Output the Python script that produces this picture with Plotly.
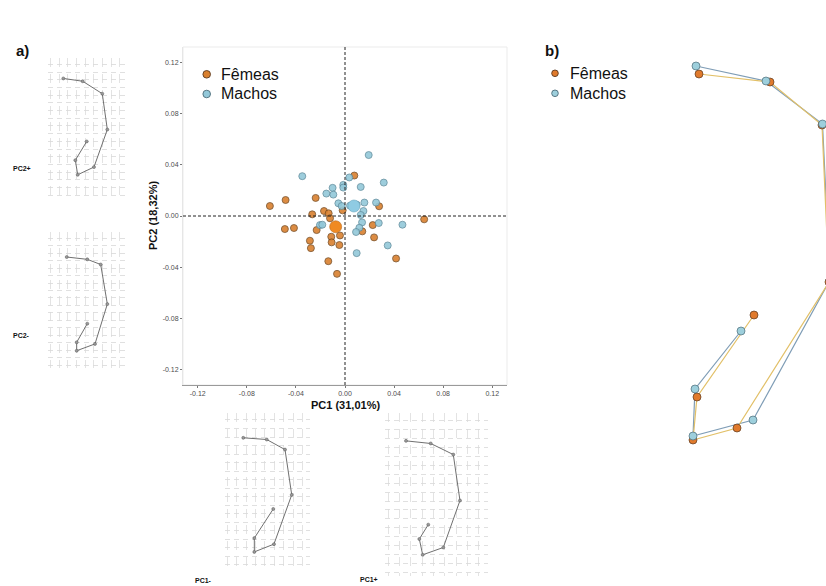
import plotly.graph_objects as go

W, H = 826, 586
FONT = "Liberation Sans, Arial, sans-serif"

# ---------------- data ----------------
# a) PCA scores
fem_pc1 = [-0.0612, -0.0484, -0.0490, -0.0416, -0.0239, -0.0267, -0.0231, -0.0286, -0.0278,
           -0.0171, -0.0133, -0.0122, -0.0112, -0.0109, -0.0041, -0.0046, -0.0136, -0.0065,
           -0.0019, 0.0076, 0.0278, 0.0226, 0.0141, 0.0237, 0.0416, 0.0645]
fem_pc2 = [0.0078, 0.0125, -0.0102, -0.0094, 0.0141, 0.0013, -0.0110, -0.0193, -0.0251,
           0.0039, 0.0021, -0.0018, -0.0162, -0.0206, -0.0152, -0.0227, -0.0353, -0.0452,
           0.0044, 0.0316, 0.0076, -0.0071, -0.0120, -0.0167, -0.0332, -0.0026]
mac_pc1 = [-0.0348, -0.0152, -0.0101, -0.0095, -0.0014, -0.0014, 0.0035, 0.0128, 0.0193,
           0.0316, -0.0054, 0.0041, 0.0095, 0.0158, 0.0150, 0.0128, 0.0253, 0.0275,
           0.0468, 0.0139, 0.0117, 0.0090, 0.0095, 0.0348, -0.0204, -0.0185, -0.0027]
mac_pc2 = [0.0311, 0.0175, 0.0220, 0.0167, 0.0243, 0.0222, 0.0301, 0.0227, 0.0476,
           0.0261, 0.0099, 0.0081, 0.0089, 0.0105, 0.0039, 0.0008, 0.0105, -0.0055,
           -0.0068, -0.0050, -0.0092, -0.0125, -0.0290, -0.0230, -0.0071, -0.0068, 0.0078]
fem_mean = [-0.0076, -0.0084]
mac_mean = [0.0073, 0.0078]
ticks = [-0.12, -0.08, -0.04, 0.0, 0.04, 0.08, 0.12]
tick_labels = ["-0.12", "-0.08", "-0.04", "0.00", "0.04", "0.08", "0.12"]
groups = ["Fêmeas", "Machos"]

# deformation grid wireframes (landmarks 1..8, normalised grid coords)
pc2p_x = [0.194, 0.439, 0.687, 0.751, 0.582, 0.376, 0.346, 0.490]
pc2p_y = [0.854, 0.834, 0.745, 0.489, 0.221, 0.166, 0.270, 0.404]
pc2m_x = [0.237, 0.497, 0.667, 0.751, 0.595, 0.363, 0.363, 0.497]
pc2m_y = [0.816, 0.799, 0.761, 0.470, 0.177, 0.127, 0.189, 0.326]
pc1m_x = [0.215, 0.491, 0.706, 0.785, 0.576, 0.345, 0.345, 0.568]
pc1m_y = [0.840, 0.829, 0.764, 0.472, 0.154, 0.104, 0.193, 0.381]
pc1p_x = [0.204, 0.444, 0.663, 0.728, 0.566, 0.366, 0.333, 0.420]
pc1p_y = [0.829, 0.813, 0.745, 0.463, 0.175, 0.130, 0.227, 0.315]

# b) mean shapes
fem_shape_x = [-0.061, 0.010, 0.062, 0.069, -0.023, -0.067, -0.063, -0.006]
fem_shape_y = [0.176, 0.168, 0.125, -0.032, -0.178, -0.190, -0.147, -0.065]
mac_shape_x = [-0.064, 0.006, 0.0625, 0.070, -0.007, -0.067, -0.065, -0.019]
mac_shape_y = [0.184, 0.169, 0.126, -0.030, -0.170, -0.186, -0.139, -0.081]

ORANGE = "#d9802f"
BLUE = "#93c8d9"


def PX(p):  # window pixel -> paper x
    return p / W


def PY(p):  # window pixel -> paper y
    return 1 - p / H


def dom_x(a, b):
    return [PX(a), PX(b)]


def dom_y(top, bottom):
    return [PY(bottom), PY(top)]


fig = go.Figure()

# ---- scatter panel ----
fig.add_trace(go.Scatter(x=fem_pc1, y=fem_pc2, mode="markers", name=groups[0], showlegend=False,
                         marker=dict(size=7, color=ORANGE, opacity=0.9,
                                     line=dict(color="#6b4520", width=0.8)),
                         xaxis="x", yaxis="y"))
fig.add_trace(go.Scatter(x=mac_pc1, y=mac_pc2, mode="markers", name=groups[1], showlegend=False,
                         marker=dict(size=7, color=BLUE, opacity=0.9,
                                     line=dict(color="#5b8797", width=0.8)),
                         xaxis="x", yaxis="y"))
fig.add_trace(go.Scatter(x=[fem_mean[0]], y=[fem_mean[1]], mode="markers", showlegend=False,
                         marker=dict(size=12, color="#f08a22", line=dict(color="#b86a1e", width=0.6)),
                         xaxis="x", yaxis="y"))
fig.add_trace(go.Scatter(x=[mac_mean[0]], y=[mac_mean[1]], mode="markers", showlegend=False,
                         marker=dict(size=12, color="#8fcbe3", line=dict(color="#6aa8c0", width=0.6)),
                         xaxis="x", yaxis="y"))

# ---- grids ----
grids = [
    ("x3", "y3", pc2p_x, pc2p_y, dom_x(48, 127), dom_y(58, 198)),
    ("x4", "y4", pc2m_x, pc2m_y, dom_x(48, 127), dom_y(232, 368)),
    ("x5", "y5", pc1m_x, pc1m_y, dom_x(225, 310), dom_y(413, 568)),
    ("x6", "y6", pc1p_x, pc1p_y, dom_x(385, 488), dom_y(413, 576)),
]
for xa, ya, gx, gy, dx, dy in grids:
    fig.add_trace(go.Scatter(x=gx, y=gy, mode="lines+markers", showlegend=False,
                             line=dict(color="#707070", width=1),
                             marker=dict(size=3, color="#9a9a9a", line=dict(color="#555", width=0.5)),
                             xaxis=xa, yaxis=ya))

# ---- panel b ----
fig.add_trace(go.Scatter(x=mac_shape_x, y=mac_shape_y, mode="lines", showlegend=False,
                         line=dict(color="#7f9db6", width=1.2), xaxis="x2", yaxis="y2"))
fig.add_trace(go.Scatter(x=fem_shape_x, y=fem_shape_y, mode="lines", showlegend=False,
                         line=dict(color="#e2c068", width=1.2), xaxis="x2", yaxis="y2"))
fig.add_trace(go.Scatter(x=fem_shape_x, y=fem_shape_y, mode="markers", name=groups[0], showlegend=False,
                         marker=dict(size=8, color="#e07a2c", line=dict(color="#5a3a20", width=0.7)),
                         xaxis="x2", yaxis="y2"))
fig.add_trace(go.Scatter(x=mac_shape_x, y=mac_shape_y, mode="markers", name=groups[1], showlegend=False,
                         marker=dict(size=8, color="#9dcfdc", line=dict(color="#4c6b78", width=0.7)),
                         xaxis="x2", yaxis="y2"))

tickfont = dict(family=FONT, size=7, color="#4d4d4d")
layout = dict(
    width=W, height=H, margin=dict(l=0, r=0, t=0, b=0),
    paper_bgcolor="white", plot_bgcolor="white",
    font=dict(family=FONT, color="#222"), showlegend=False, hovermode=False,
    xaxis=dict(domain=dom_x(183, 507), range=[-0.132, 0.132], tickvals=ticks, ticktext=tick_labels,
               tickfont=tickfont, ticks="outside", ticklen=2, tickcolor="#777",
               showgrid=False, zeroline=False, showline=True, linecolor="#9a9a9a", linewidth=1,
               anchor="y"),
    yaxis=dict(domain=dom_y(47, 385), range=[-0.132, 0.132], tickvals=ticks, ticktext=tick_labels,
               tickfont=tickfont, ticks="outside", ticklen=2, tickcolor="#777",
               showgrid=False, zeroline=False, showline=True, linecolor="#e6e6e6", linewidth=1,
               anchor="x"),
    xaxis2=dict(domain=dom_x(640, 826), range=[-0.12, 0.066], visible=False, anchor="y2"),
    yaxis2=dict(domain=dom_y(50, 450), range=[-0.2, 0.2], visible=False, anchor="x2"),
)
for i, (xa, ya, gx, gy, dx, dy) in enumerate(grids):
    n = xa[1:]
    layout["xaxis" + n] = dict(domain=dx, range=[0, 1], anchor="y" + n, showticklabels=False,
                               showgrid=True, gridcolor="#dcdcdc", gridwidth=0.8, griddash="9px,7px",
                               dtick=0.11, tick0=0.03, zeroline=False, showline=False, ticks="")
    layout["yaxis" + n] = dict(domain=dy, range=[0, 1], anchor="x" + n, showticklabels=False,
                               showgrid=True, gridcolor="#d8d8d8", gridwidth=0.8, griddash="5px,4px",
                               dtick=0.055, tick0=0.02, zeroline=False, showline=False, ticks="")
fig.update_layout(**layout)

# light panel frame and zero lines
fig.add_shape(type="rect", xref="x domain", yref="y domain", x0=0, x1=1, y0=0, y1=1,
              line=dict(color="#ebebeb", width=1), layer="below")
fig.add_shape(type="line", xref="x", yref="y domain", x0=0, x1=0, y0=0, y1=1,
              line=dict(color="#222", width=1, dash="3px,2px"))
fig.add_shape(type="line", xref="x domain", yref="y", x0=0, x1=1, y0=0, y1=0,
              line=dict(color="#222", width=1, dash="3px,2px"))


def ann(text, x, y, size, bold=True, angle=0, xanchor="center"):
    fig.add_annotation(text=f"<b>{text}</b>" if bold else text, x=PX(x), y=PY(y),
                       xref="paper", yref="paper", showarrow=False, textangle=angle,
                       font=dict(family=FONT, size=size, color="#111"),
                       xanchor=xanchor, yanchor="middle")


def legend_key(cx, cy, r, fill, edge, label, tx):
    fig.add_shape(type="circle", xref="paper", yref="paper",
                  x0=PX(cx - r), x1=PX(cx + r), y0=PY(cy + r), y1=PY(cy - r),
                  fillcolor=fill, line=dict(color=edge, width=0.9))
    ann(label, tx, cy, 16, bold=False, xanchor="left")


# legends (a and b)
legend_key(206.7, 74.3, 3.8, ORANGE, "#5a3a20", groups[0], 219)
legend_key(206.7, 94.0, 3.8, BLUE, "#4c6b78", groups[1], 219)
legend_key(555.0, 73.3, 3.3, "#e07a2c", "#5a3a20", groups[0], 568)
legend_key(555.0, 93.3, 3.3, "#9dcfdc", "#4c6b78", groups[1], 568)

ann("a)", 22, 50, 15)
ann("b)", 552, 50, 15)
ann("PC1 (31,01%)", 345, 405, 11)
ann("PC2 (18,32%)", 153, 216, 11, angle=-90)
ann("PC2+", 22, 168, 7)
ann("PC2-", 21, 335, 7)
ann("PC1-", 203, 580, 7)
ann("PC1+", 369, 579, 7)

# the page body's default 8px margin would push the fixed-size figure out of the window
fig.write_html("out.html", config={"displayModeBar": False, "staticPlot": True},
               post_script="document.body.style.margin='0px';")
